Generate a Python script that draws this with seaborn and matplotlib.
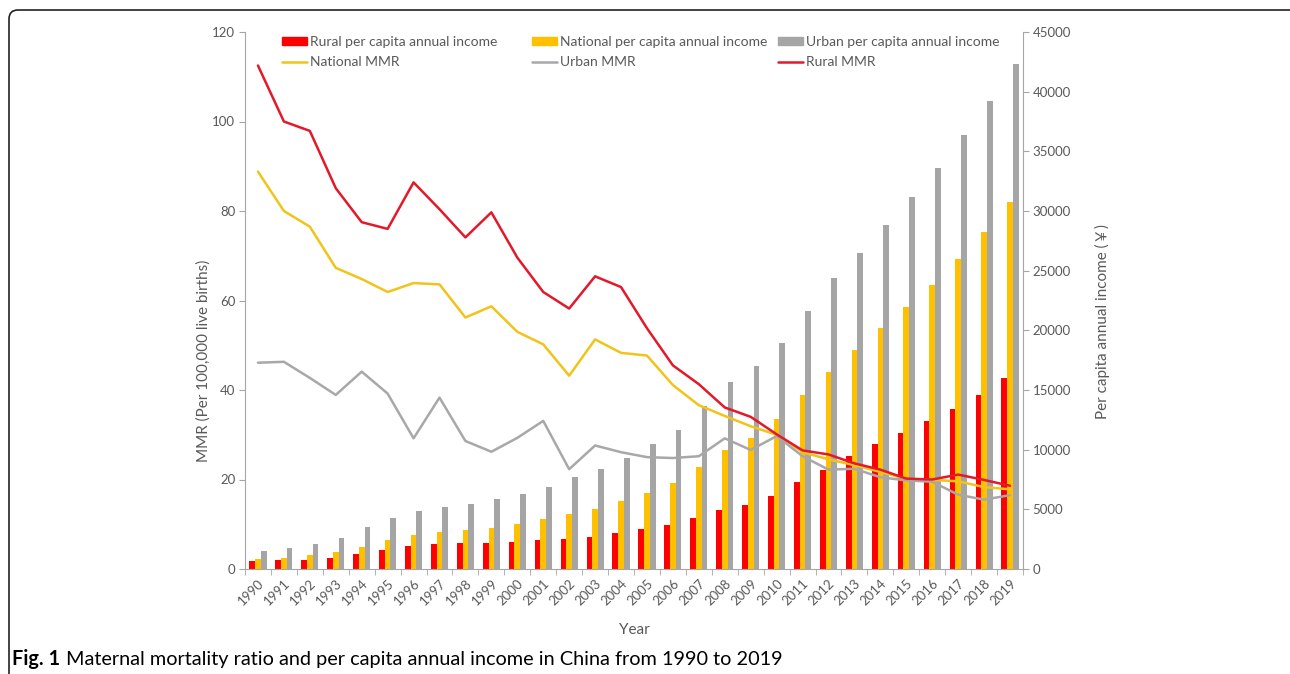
import numpy as np
import pandas as pd
import matplotlib
matplotlib.use("Agg")
import matplotlib.pyplot as plt
import seaborn as sns
from matplotlib.patches import Patch, FancyBboxPatch
from matplotlib.lines import Line2D
from matplotlib.legend import Legend
from matplotlib.transforms import IdentityTransform

sns.set_style("white")
plt.rcParams['font.family'] = ['Lato', 'Noto Sans CJK SC', 'DejaVu Sans']

years = [str(y) for y in range(1990, 2020)]

# MMR (per 100,000 live births)
national_mmr = [88.8, 80.0, 76.5, 67.3, 64.8, 61.9, 63.9, 63.6, 56.2, 58.7,
                53.0, 50.2, 43.2, 51.3, 48.3, 47.7, 41.1, 36.6, 34.2, 31.9,
                30.0, 26.1, 24.5, 23.2, 21.7, 20.1, 19.9, 19.6, 18.3, 17.8]
urban_mmr = [46.1, 46.3, 42.7, 38.9, 44.1, 39.2, 29.2, 38.3, 28.6, 26.2,
             29.3, 33.1, 22.3, 27.6, 26.1, 25.0, 24.8, 25.2, 29.2, 26.6,
             29.7, 25.2, 22.2, 22.4, 20.5, 19.8, 19.5, 16.6, 15.5, 16.5]
rural_mmr = [112.5, 100.0, 97.9, 85.1, 77.5, 76.0, 86.4, 80.4, 74.1, 79.7,
             69.6, 61.9, 58.2, 65.4, 63.0, 53.8, 45.5, 41.3, 36.1, 34.0,
             30.1, 26.5, 25.6, 23.6, 22.2, 20.2, 20.0, 21.1, 19.9, 18.6]

# per capita annual income (yuan)
rural_income = [690, 720, 780, 920, 1225, 1590, 1925, 2095, 2155, 2210,
                2280, 2390, 2530, 2670, 3000, 3330, 3700, 4280, 4920, 5380,
                6150, 7300, 8300, 9430, 10489, 11422, 12363, 13432, 14617, 16021]
national_income = [860, 920, 1140, 1400, 1840, 2430, 2820, 3100, 3270, 3470,
                   3750, 4170, 4590, 5000, 5720, 6390, 7230, 8570, 9960, 10950,
                   12540, 14580, 16480, 18311, 20167, 21966, 23821, 25974, 28228, 30733]
urban_income = [1520, 1720, 2060, 2570, 3495, 4300, 4860, 5170, 5440, 5850,
                6270, 6855, 7680, 8420, 9330, 10440, 11680, 13680, 15680, 17040,
                18920, 21620, 24350, 26467, 28844, 31195, 33616, 36396, 39251, 42359]

kinds = ['Rural per capita annual income', 'National per capita annual income',
         'Urban per capita annual income']
bar_colors = ['#FF0000', '#FFC000', '#A5A5A5']
line_colors = {'National MMR': '#F0C419', 'Urban MMR': '#A8A8A8', 'Rural MMR': '#E3192B'}

inc = pd.DataFrame({'Year': years * 3,
                    'Income': rural_income + national_income + urban_income,
                    'Type': np.repeat(kinds, len(years))})

fig = plt.figure(figsize=(12.9, 6.74), dpi=100)
ax = fig.add_axes([245 / 1290, 1 - 569 / 674, 778 / 1290, 537 / 674])
ax2 = ax.twinx()

sns.barplot(data=inc, x='Year', y='Income', hue='Type', hue_order=kinds,
            palette=bar_colors, saturation=1, width=0.66, linewidth=0,
            ax=ax2, legend=False)

idx = np.arange(len(years))
for name, vals in [('National MMR', national_mmr), ('Urban MMR', urban_mmr),
                   ('Rural MMR', rural_mmr)]:
    sns.lineplot(x=idx, y=vals, ax=ax, color=line_colors[name], linewidth=1.8)

ax.set_zorder(ax2.get_zorder() + 1)
ax.patch.set_visible(False)

ax.set_xlim(-0.5, len(years) - 0.5)
ax.set_ylim(0, 120)
ax2.set_ylim(0, 45000)
ax.set_yticks(range(0, 121, 20))
ax2.set_yticks(range(0, 45001, 5000))
ax.set_xticks(idx)
ax.set_xticklabels(years, rotation=45, ha='right', rotation_mode='anchor')
ax.set_xticks(np.arange(-0.5, len(years), 1), minor=True)

txt = '#595959'
spine_c = '#A6A6A6'
for a in (ax, ax2):
    for s in a.spines.values():
        s.set_color(spine_c)
    a.spines['top'].set_visible(False)
ax.spines['right'].set_visible(False)
ax2.spines['left'].set_visible(False)
ax2.spines['bottom'].set_visible(False)

ax.tick_params(axis='y', left=True, length=4, color=spine_c, labelsize=9.5, labelcolor=txt, pad=3)
ax2.tick_params(axis='y', right=True, length=4, color=spine_c, labelsize=9.5, labelcolor=txt, pad=3)
ax.tick_params(axis='x', which='major', length=0, labelsize=9.5, labelcolor=txt, pad=6)
ax.tick_params(axis='x', which='minor', bottom=True, length=4, color=spine_c)

ax.set_xlabel('Year', fontsize=11, color=txt)
ax.xaxis.set_label_coords(0.5, -0.1)
ax.set_ylabel('MMR (Per 100,000 live births)', fontsize=11, color=txt)
ax.yaxis.set_label_coords(-0.044, 0.387)
ax2.set_ylabel('Per capita annual income (￥)', fontsize=11, color=txt)
ax2.yaxis.set_label_coords(1.093, 0.46)

# Excel-style legend: three equal-width columns, two rows each
col_items = [
    [(Patch(color=bar_colors[0]), kinds[0]),
     (Line2D([], [], color=line_colors['National MMR'], lw=1.8), 'National MMR')],
    [(Patch(color=bar_colors[1]), kinds[1]),
     (Line2D([], [], color=line_colors['Urban MMR'], lw=1.8), 'Urban MMR')],
    [(Patch(color=bar_colors[2]), kinds[2]),
     (Line2D([], [], color=line_colors['Rural MMR'], lw=1.8), 'Rural MMR')],
]
col_x = [279, 529, 775]
for xpix, items in zip(col_x, col_items):
    h, l = zip(*items)
    leg = Legend(ax, list(h), list(l), loc='upper left',
                 bbox_to_anchor=((xpix - 245) / 778, 0.998),
                 frameon=False, fontsize=10, handlelength=1.8, handleheight=0.6,
                 handletextpad=0.25, labelspacing=0.62, borderpad=0.2, borderaxespad=0)
    for t in leg.get_texts():
        t.set_color(txt)
    ax.add_artist(leg)

# rounded frame around the figure
frame = FancyBboxPatch((9, -30), 1300, 674 - 10 + 30, boxstyle='round,pad=0,rounding_size=9',
                       transform=IdentityTransform(), fill=False, edgecolor='#222222',
                       linewidth=1.2)
fig.patches.append(frame)

cap1 = fig.text(12 / 1290, 1 - 665 / 674, 'Fig. 1', fontsize=14.3, fontweight='bold', color='black')
fig.canvas.draw()
x_end = cap1.get_window_extent().x1
fig.text((x_end + 6) / 1290, 1 - 665 / 674,
         'Maternal mortality ratio and per capita annual income in China from 1990 to 2019',
         fontsize=14.3, color='black')

fig.savefig('out.png', dpi=100)
